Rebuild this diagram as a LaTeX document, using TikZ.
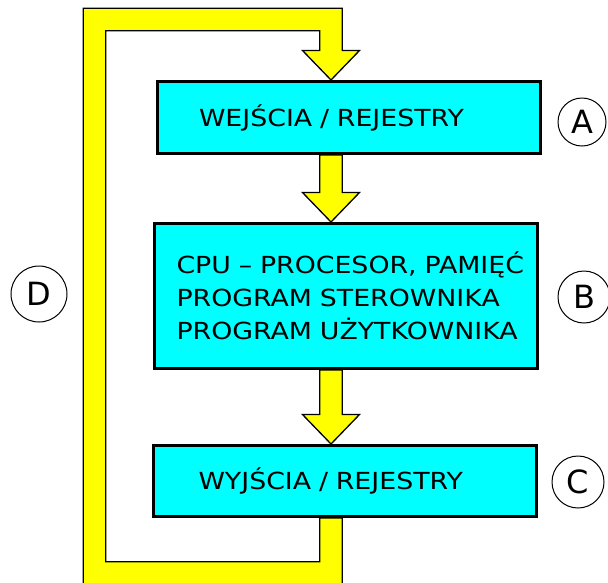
\documentclass[tikz,border=0pt]{standalone}
\usepackage{fontspec}
\setmainfont{DejaVu Sans}
\newfontfamily\boxfamily[FakeStretch=1.14]{DejaVu Sans}
\usetikzlibrary{calc, backgrounds}
\definecolor{boxcyan}{RGB}{0,255,255}
\definecolor{flowyellow}{RGB}{255,255,0}
\newcommand\arrShaft{11.25pt}
\newcommand\arrHead{28.5pt}
\newcommand\arrLen{29.5pt}
\tikzset{
  stage/.style ={draw=black, fill=boxcyan, line width=3pt,
                 minimum width=383pt, text width=383pt, inner xsep=0pt,
                 align=left, font=\boxfamily\fontsize{23.5}{33}\selectfont},
  tag/.style   ={circle, draw=black, line width=1pt, inner sep=0pt,
                 font=\fontsize{32}{32}\selectfont},
  flow/.style  ={fill=flowyellow, draw=black, line width=1.3pt,
                 line join=miter},
}

\begin{document}
\begin{tikzpicture}[x=1pt, y=-1pt]
\useasboundingbox (0,0) rectangle (608,582);

% --- stages ---
\node[stage, minimum height=72pt] (wej) at (349,117.5)
     {\hspace*{41.5pt}WEJŚCIA / REJESTRY};
\node[stage, minimum height=145pt] (cpu) at (346,296)
     {\hspace*{22pt}CPU – PROCESOR, PAMIĘĆ\\
      \hspace*{22pt}PROGRAM STEROWNIKA\\
      \hspace*{22pt}PROGRAM UŻYTKOWNIKA};
\node[stage, minimum height=71pt] (wyj) at (345,481)
     {\hspace*{45pt}WYJŚCIA / REJESTRY};

% --- tags ---
\node[tag, minimum size=48pt] (tagA) at (582,122) {A};
\node[tag, minimum size=52pt] (tagB) at (584,297) {B};
\node[tag, minimum size=52pt] (tagC) at (578,482) {C};
\node[tag, minimum size=56pt] (tagD) at (39,294) {D};

% --- flow arrows ---
\coordinate (col) at (331,0);
\coordinate (loopTL) at (94.5,19.5);
\coordinate (loopBL) at (94.5,573);
\begin{scope}[on background layer]
  \foreach \src/\dst in {wej/cpu, cpu/wyj}
    \draw[flow] let \p1=(\src.south -| col), \p2=(\dst.north -| col) in
      (\x1-\arrShaft,\y1) -- (\x1-\arrShaft,\y2+\arrLen)
      -- (\x1-\arrHead,\y2+\arrLen) -- (\p2)
      -- (\x1+\arrHead,\y2+\arrLen) -- (\x1+\arrShaft,\y2+\arrLen)
      -- (\x1+\arrShaft,\y1) -- cycle;
  % feedback loop: outputs back to inputs
  \draw[flow] let \p1=(wyj.south -| col), \p2=(wej.north -| col),
                  \p3=(loopTL), \p4=(loopBL) in
    (\x1+\arrShaft,\y1) -- (\x1+\arrShaft,\y4-\arrShaft)
    -- (\x3-\arrShaft,\y4-\arrShaft) -- (\x3-\arrShaft,\y3+\arrShaft)
    -- (\x2+\arrShaft,\y3+\arrShaft) -- (\x2+\arrShaft,\y2+\arrLen)
    -- (\x2+\arrHead,\y2+\arrLen) -- (\p2)
    -- (\x2-\arrHead,\y2+\arrLen) -- (\x2-\arrShaft,\y2+\arrLen)
    -- (\x2-\arrShaft,\y3-\arrShaft) -- (\x3+\arrShaft,\y3-\arrShaft)
    -- (\x3+\arrShaft,\y4+\arrShaft) -- (\x1-\arrShaft,\y4+\arrShaft)
    -- (\x1-\arrShaft,\y1) -- cycle;
\end{scope}

\end{tikzpicture}
\end{document}
